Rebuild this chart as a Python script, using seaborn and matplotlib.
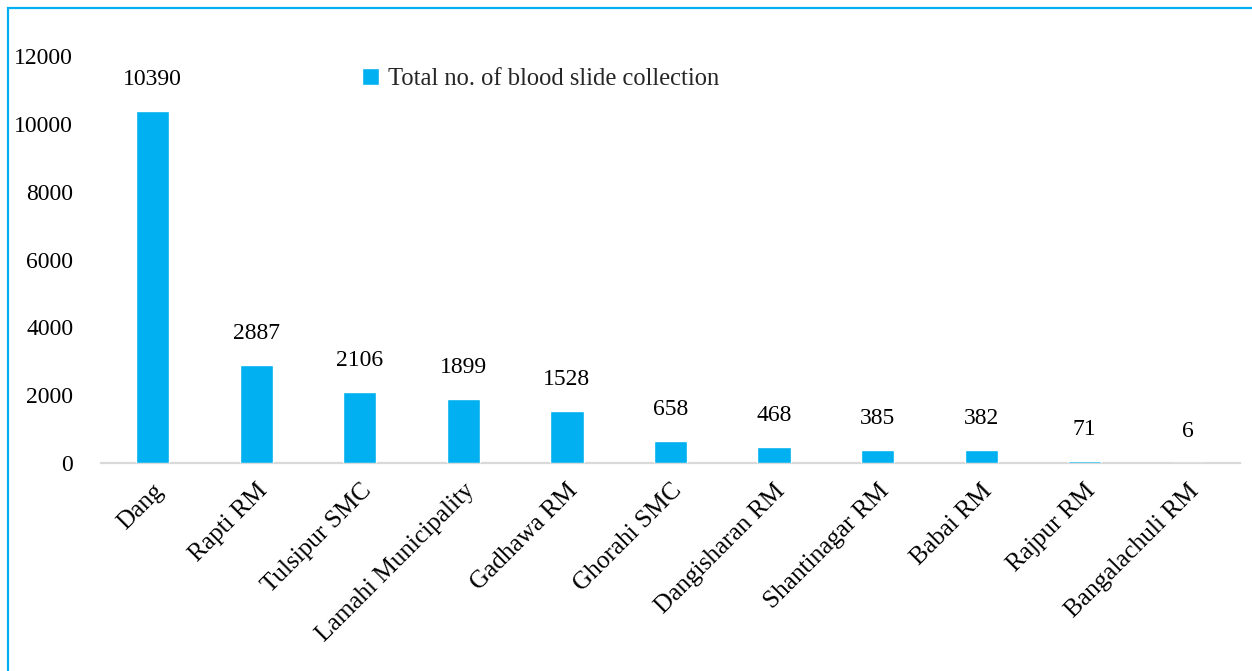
import matplotlib
matplotlib.use("Agg")
import matplotlib.pyplot as plt
from matplotlib.patches import Rectangle
import seaborn as sns
import pandas as pd

areas = ["Dang", "Rapti RM", "Tulsipur SMC", "Lamahi Municipality", "Gadhawa RM",
         "Ghorahi SMC", "Dangisharan RM", "Shantinagar RM", "Babai RM", "Rajpur RM",
         "Bangalachuli RM"]
slides = [10390, 2887, 2106, 1899, 1528, 658, 468, 385, 382, 71, 6]
series_name = "Total no. of blood slide collection"
y_ticks = [0, 2000, 4000, 6000, 8000, 10000, 12000]

sns.set_theme(style="white")
plt.rcParams["font.family"] = ["Liberation Serif", "DejaVu Serif"]

BLUE = "#00B0F0"
df = pd.DataFrame({"area": areas, "slides": slides, "series": series_name})

fig = plt.figure(figsize=(12.52, 6.71), dpi=100)
ax = fig.add_axes([101 / 1252, 1 - 463 / 671, (1240 - 101) / 1252, (463 - 56) / 671])

sns.barplot(data=df, x="area", y="slides", hue="series", palette=[BLUE],
            width=0.32, ax=ax, saturation=1, legend=True, zorder=3)

for c in ax.containers:
    ax.bar_label(c, labels=[str(v) for v in slides], padding=15, fontsize=17,
                 color="black")

ax.set_ylim(0, 12000)
ax.set_xlim(-0.5, len(areas) - 0.5)
ax.set_yticks(y_ticks)
ax.set_yticklabels([str(t) for t in y_ticks], fontsize=17, color="black")
ax.tick_params(axis="y", length=0, pad=20)
ax.tick_params(axis="x", length=0, pad=12)
plt.setp(ax.get_xticklabels(), rotation=45, ha="right", rotation_mode="anchor",
         fontsize=18.2, color="black")
ax.set_xlabel("")
ax.set_ylabel("")
for s in ["top", "right", "left"]:
    ax.spines[s].set_visible(False)
ax.spines["bottom"].set_color("#D9D9D9")
ax.spines["bottom"].set_linewidth(1.6)
ax.spines["bottom"].set_zorder(1)

leg = ax.legend(loc="upper left", bbox_to_anchor=((352 - 101) / 1139, 0.995),
                frameon=False, fontsize=17.7, handlelength=0.68, handleheight=0.68,
                handletextpad=0.4, borderaxespad=0)

# light blue frame around the chart area
fig.patches.append(Rectangle((8 / 1252, -0.1), 1.2, 1 - 8 / 671 + 0.1,
                             transform=fig.transFigure, fill=False,
                             edgecolor=BLUE, linewidth=1.6))

fig.savefig("out.png", dpi=100)
